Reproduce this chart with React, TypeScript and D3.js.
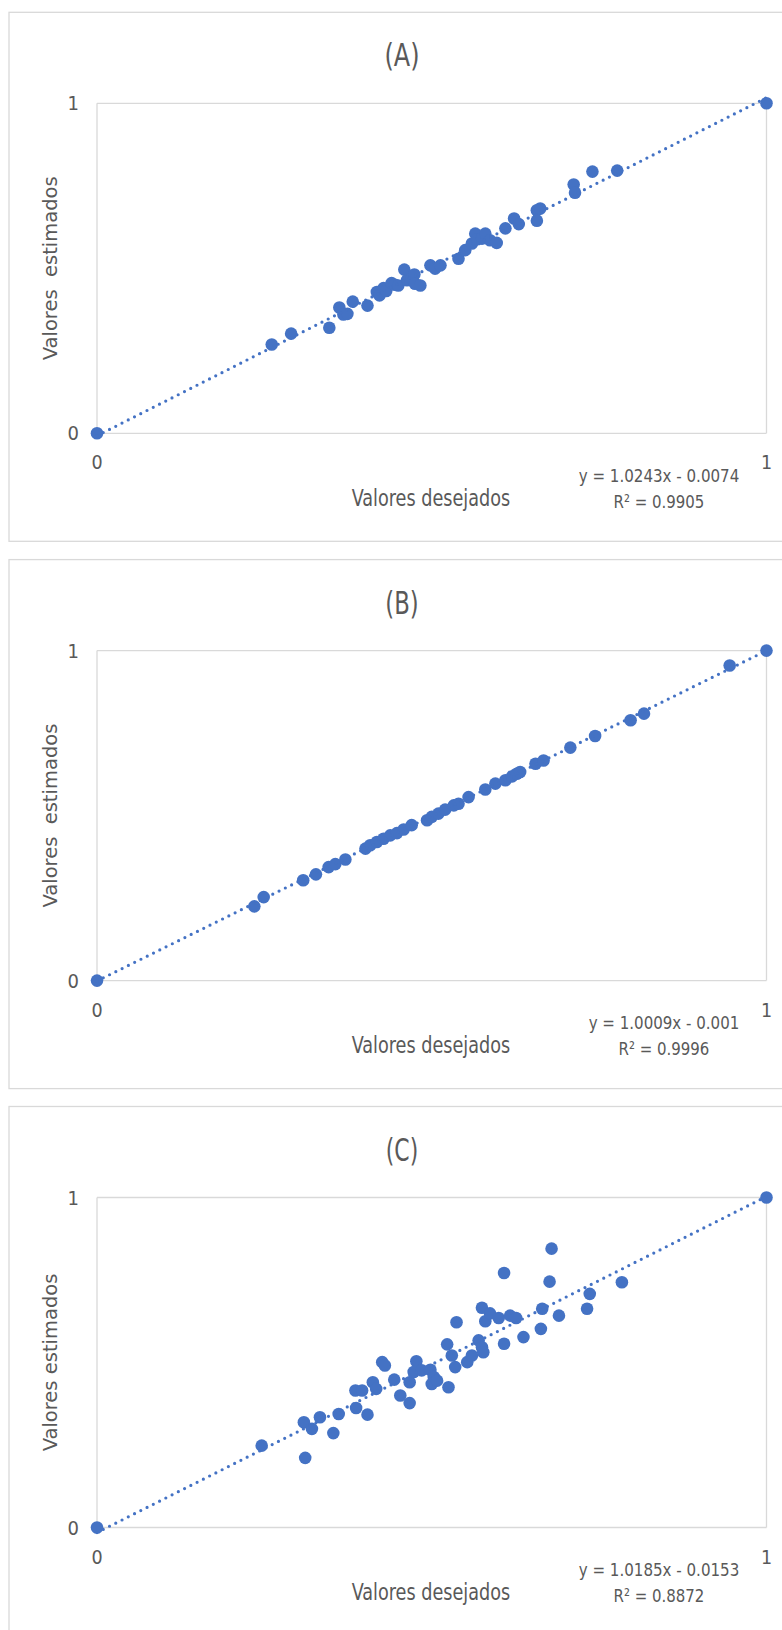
import React from "react";
import * as d3 from "d3";

// ---------- data ----------
const aDesired = [0, 0.261, 0.29, 0.347, 0.362, 0.368, 0.374, 0.382, 0.404, 0.418, 0.422, 0.428, 0.432, 0.44, 0.445, 0.45, 0.459, 0.463, 0.47, 0.474, 0.475, 0.483, 0.498, 0.505, 0.513, 0.54, 0.55, 0.56, 0.565, 0.568, 0.575, 0.58, 0.587, 0.597, 0.61, 0.623, 0.63, 0.657, 0.657, 0.662, 0.712, 0.714, 0.74, 0.777, 1];
const aEstimated = [0, 0.269, 0.302, 0.32, 0.381, 0.36, 0.362, 0.399, 0.387, 0.428, 0.418, 0.44, 0.431, 0.455, 0.45, 0.448, 0.496, 0.464, 0.47, 0.481, 0.453, 0.448, 0.509, 0.499, 0.509, 0.529, 0.555, 0.575, 0.605, 0.588, 0.59, 0.605, 0.585, 0.577, 0.621, 0.651, 0.634, 0.676, 0.644, 0.681, 0.754, 0.729, 0.793, 0.796, 1];

const bDesired = [0, 0.235, 0.249, 0.308, 0.327, 0.346, 0.356, 0.371, 0.401, 0.408, 0.418, 0.428, 0.438, 0.448, 0.458, 0.47, 0.493, 0.5, 0.51, 0.52, 0.533, 0.54, 0.555, 0.58, 0.595, 0.61, 0.62, 0.627, 0.632, 0.655, 0.667, 0.707, 0.744, 0.797, 0.817, 0.945, 1];
const bEstimated = [0, 0.225, 0.253, 0.304, 0.322, 0.344, 0.353, 0.367, 0.4, 0.41, 0.42, 0.43, 0.44, 0.447, 0.458, 0.471, 0.486, 0.496, 0.506, 0.518, 0.531, 0.536, 0.556, 0.579, 0.597, 0.607, 0.619, 0.627, 0.632, 0.657, 0.667, 0.706, 0.741, 0.789, 0.809, 0.955, 1];

const cDesired = [0, 0.246, 0.311, 0.309, 0.321, 0.333, 0.353, 0.361, 0.387, 0.386, 0.396, 0.404, 0.412, 0.417, 0.426, 0.43, 0.444, 0.453, 0.467, 0.467, 0.477, 0.473, 0.485, 0.498, 0.503, 0.5, 0.508, 0.523, 0.525, 0.535, 0.53, 0.537, 0.553, 0.56, 0.57, 0.575, 0.577, 0.575, 0.58, 0.587, 0.6, 0.608, 0.608, 0.617, 0.626, 0.637, 0.663, 0.665, 0.676, 0.679, 0.69, 0.732, 0.736, 0.784, 1];
const cEstimated = [0, 0.248, 0.211, 0.319, 0.299, 0.334, 0.286, 0.344, 0.362, 0.415, 0.415, 0.342, 0.44, 0.42, 0.501, 0.491, 0.448, 0.4, 0.377, 0.44, 0.504, 0.471, 0.476, 0.478, 0.456, 0.435, 0.445, 0.555, 0.425, 0.486, 0.521, 0.622, 0.501, 0.521, 0.567, 0.546, 0.531, 0.666, 0.625, 0.649, 0.635, 0.557, 0.771, 0.642, 0.635, 0.577, 0.602, 0.663, 0.745, 0.845, 0.642, 0.663, 0.708, 0.743, 1];

const panelTitles = ["(A)", "(B)", "(C)"];
const yTitles = ["Valores  estimados", "Valores  estimados", "Valores estimados"];
const xTitle = "Valores desejados";
const slopes = [1.0243, 1.0009, 1.0185];
const intercepts = [-0.0074, -0.001, -0.0153];
const equations = ["y = 1.0243x - 0.0074", "y = 1.0009x - 0.001", "y = 1.0185x - 0.0153"];
const r2Labels = ["R² = 0.9905", "R² = 0.9996", "R² = 0.8872"];
const axisTicks = [0, 1];

const panels = [
  { xs: aDesired, ys: aEstimated },
  { xs: bDesired, ys: bEstimated },
  { xs: cDesired, ys: cEstimated },
];

// ---------- layout ----------
const W = 782;
const H = 1630;
const panelTops = [12.3, 559.6, 1106.5];
const panelH = 529;
const plotLeft = 97;
const plotRight = 766.5;
const plotTopOff = 91;
const plotH = 330;
const eqCenters = [659, 664, 659];
const eqWidths = [160.6, 150.6, 160.6];
const titleWidths = [35, 33.4, 32.4];
const blue = "#4472C4";
const textCol = "#595959";
const grid = "#d9d9d9";
const narrow = "'Liberation Sans Narrow', 'DejaVu Sans Condensed', 'Liberation Sans', sans-serif";

function Panel({ i }: { i: number }) {
  const top = panelTops[i];
  const pTop = top + plotTopOff;
  const pBot = pTop + plotH;
  const x = d3.scaleLinear().domain([0, 1]).range([plotLeft, plotRight]);
  const y = d3.scaleLinear().domain([0, 1]).range([pBot, pTop]);
  const { xs, ys } = panels[i];
  const trend = d3
    .line<number>()
    .x((v) => x(v))
    .y((v) => y(slopes[i] * v + intercepts[i]))([0, 1]);
  const cy = (pTop + pBot) / 2;
  return (
    <g>
      <rect x={9} y={top} width={W + 20} height={panelH} fill="#fff" stroke={grid} strokeWidth={1.3} />
      <text x={402} y={pTop - 37} textAnchor="middle" fill={textCol} fontFamily={narrow} fontSize={32}
        textLength={titleWidths[i]} lengthAdjust="spacingAndGlyphs">{panelTitles[i]}</text>
      {axisTicks.map((t) => (
        <line key={"h" + t} x1={plotLeft} x2={plotRight} y1={y(t)} y2={y(t)} stroke={grid} strokeWidth={1.3} />
      ))}
      {axisTicks.map((t) => (
        <line key={"v" + t} x1={x(t)} x2={x(t)} y1={pTop} y2={pBot} stroke={grid} strokeWidth={1.3} />
      ))}
      {axisTicks.map((t) => (
        <text key={"yt" + t} x={79} y={y(t) + 7} textAnchor="end" fill={textCol} fontFamily={narrow} fontSize={20}>{t}</text>
      ))}
      {axisTicks.map((t) => (
        <text key={"xt" + t} x={x(t)} y={pBot + 36} textAnchor="middle" fill={textCol} fontFamily={narrow} fontSize={19.5}>{t}</text>
      ))}
      {xs.map((v, k) => (
        <circle key={k} cx={x(v)} cy={y(ys[k])} r={6.3} fill={blue} />
      ))}
      <path d={trend || ""} fill="none" stroke={blue} strokeWidth={3.2} strokeDasharray="0 7" strokeLinecap="round" />
      <text x={431} y={pBot + 72.5} textAnchor="middle" fill={textCol} fontFamily={narrow} fontSize={23}
        textLength={158.6} lengthAdjust="spacingAndGlyphs">{xTitle}</text>
      <text x={eqCenters[i]} y={pBot + 48.5} textAnchor="middle" fill={textCol} fontFamily={narrow} fontSize={18}
        textLength={eqWidths[i]} lengthAdjust="spacingAndGlyphs">{equations[i]}</text>
      <text x={eqCenters[i]} y={pBot + 74.8} textAnchor="middle" fill={textCol} fontFamily={narrow} fontSize={18.5}
        textLength={90.8} lengthAdjust="spacingAndGlyphs">{r2Labels[i]}</text>
      <text transform={`translate(57,${cy}) rotate(-90)`} textAnchor="middle" fill={textCol}
        fontFamily="'DejaVu Sans', Verdana, sans-serif" fontSize={19.5} style={{ whiteSpace: "pre" }}>{yTitles[i]}</text>
    </g>
  );
}

export default function App() {
  return (
    <svg width={W} height={H} style={{ position: "absolute", left: 0, top: 0, background: "#fff" }}>
      <rect x={0} y={0} width={W} height={H} fill="#fff" />
      {[0, 1, 2].map((i) => (
        <Panel key={i} i={i} />
      ))}
    </svg>
  );
}
